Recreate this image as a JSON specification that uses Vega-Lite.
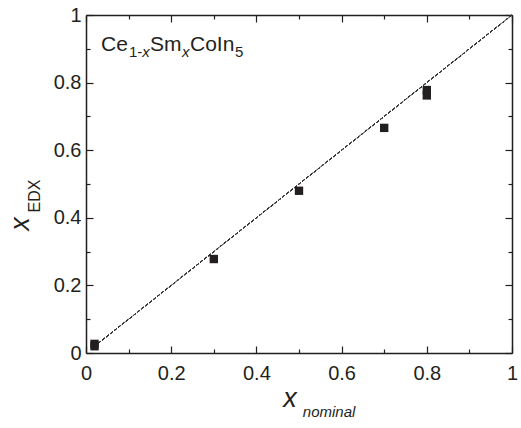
{
  "$schema": "https://vega.github.io/schema/vega-lite/v6.json",
  "width": 426,
  "height": 338,
  "autosize": "none",
  "padding": {"left": 86, "top": 15, "right": 9, "bottom": 75},
  "background": "white",
  "config": {
    "view": {"stroke": null},
    "axis": {
      "grid": false,
      "domainColor": "#231f20",
      "domainWidth": 1.5,
      "tickColor": "#231f20",
      "tickWidth": 1.2,
      "labelFont": "Liberation Sans",
      "labelFontSize": 20,
      "labelColor": "#231f20",
      "labelFlush": false,
      "labelOverlap": false,
      "title": null
    },
    "text": {"font": "Liberation Sans", "color": "#231f20"}
  },
  "data": {"values": [
    {"x_nominal": 0.02, "x_edx": 0.02},
    {"x_nominal": 0.02, "x_edx": 0.027},
    {"x_nominal": 0.3, "x_edx": 0.278},
    {"x_nominal": 0.5, "x_edx": 0.48},
    {"x_nominal": 0.7, "x_edx": 0.666},
    {"x_nominal": 0.8, "x_edx": 0.762},
    {"x_nominal": 0.8, "x_edx": 0.778}
  ]},
  "resolve": {"axis": {"x": "independent", "y": "independent"}},
  "layer": [
    {
      "mark": {"type": "rule", "strokeDash": [3, 2], "strokeWidth": 1, "color": "#333333"},
      "encoding": {
        "x": {"datum": 0.02, "type": "quantitative", "scale": {"domain": [0, 1]},
          "axis": {"orient": "bottom", "values": [0,0.1,0.2,0.3,0.4,0.5,0.6,0.7,0.8,0.9,1], "format": ".1~f",
            "labelExpr": "round(datum.value*10) % 2 === 0 ? datum.label : ''",
            "tickSize": {"condition": {"test": "round(datum.value*10) % 2 === 0", "value": -7}, "value": -4},
            "labelPadding": 17}},
        "y": {"datum": 0.02, "type": "quantitative", "scale": {"domain": [0, 1]},
          "axis": {"orient": "left", "values": [0,0.1,0.2,0.3,0.4,0.5,0.6,0.7,0.8,0.9,1], "format": ".1~f",
            "labelExpr": "round(datum.value*10) % 2 === 0 ? datum.label : ''",
            "tickSize": {"condition": {"test": "round(datum.value*10) % 2 === 0", "value": -7}, "value": -4},
            "labelPadding": 12}},
        "x2": {"datum": 1},
        "y2": {"datum": 1}
      }
    },
    {
      "mark": {"type": "square", "size": 70, "color": "#231f20", "opacity": 1, "filled": true},
      "encoding": {
        "x": {"field": "x_nominal", "type": "quantitative", "scale": {"domain": [0, 1]},
          "axis": {"orient": "top", "values": [0,0.1,0.2,0.3,0.4,0.5,0.6,0.7,0.8,0.9,1], "labels": false,
            "tickSize": {"condition": {"test": "round(datum.value*10) % 2 === 0", "value": -7}, "value": -4}}},
        "y": {"field": "x_edx", "type": "quantitative", "scale": {"domain": [0, 1]},
          "axis": {"orient": "right", "values": [0,0.1,0.2,0.3,0.4,0.5,0.6,0.7,0.8,0.9,1], "labels": false,
            "tickSize": {"condition": {"test": "round(datum.value*10) % 2 === 0", "value": -7}, "value": -4}}}
      }
    },
    {
      "data": {"values": [{}]},
      "mark": {"type": "text", "text": "x", "fontSize": 27, "fontStyle": "italic", "align": "center", "baseline": "middle", "angle": 270},
      "encoding": {
        "x": {"datum": -0.1526, "type": "quantitative", "axis": null, "scale": {"domain": [0, 1]}},
        "y": {"datum": 0.3817, "type": "quantitative", "axis": null, "scale": {"domain": [0, 1]}}
      }
    },
    {
      "data": {"values": [{}]},
      "mark": {"type": "text", "text": "EDX", "fontSize": 16, "align": "center", "baseline": "middle", "angle": 270},
      "encoding": {
        "x": {"datum": -0.1197, "type": "quantitative", "axis": null, "scale": {"domain": [0, 1]}},
        "y": {"datum": 0.4645, "type": "quantitative", "axis": null, "scale": {"domain": [0, 1]}}
      }
    },
    {
      "data": {"values": [{}]},
      "mark": {"type": "text", "text": "x", "fontSize": 27, "fontStyle": "italic", "align": "center", "baseline": "middle"},
      "encoding": {
        "x": {"datum": 0.479, "type": "quantitative", "axis": null, "scale": {"domain": [0, 1]}},
        "y": {"datum": -0.136, "type": "quantitative", "axis": null, "scale": {"domain": [0, 1]}}
      }
    },
    {
      "data": {"values": [{}]},
      "mark": {"type": "text", "text": "nominal", "fontSize": 15, "fontStyle": "italic", "align": "left", "baseline": "middle"},
      "encoding": {
        "x": {"datum": 0.509, "type": "quantitative", "axis": null, "scale": {"domain": [0, 1]}},
        "y": {"datum": -0.1746, "type": "quantitative", "axis": null, "scale": {"domain": [0, 1]}}
      }
    },
    {
      "data": {"values": [{}]},
      "mark": {"type": "text", "text": "Ce", "fontSize": 21, "align": "left", "baseline": "alphabetic"},
      "encoding": {
        "x": {"datum": 0.0352, "type": "quantitative", "axis": null, "scale": {"domain": [0, 1]}},
        "y": {"datum": 0.8935, "type": "quantitative", "axis": null, "scale": {"domain": [0, 1]}}
      }
    },
    {
      "data": {"values": [{}]},
      "mark": {"type": "text", "text": "1-", "fontSize": 15, "align": "left", "baseline": "alphabetic"},
      "encoding": {
        "x": {"datum": 0.101, "type": "quantitative", "axis": null, "scale": {"domain": [0, 1]}},
        "y": {"datum": 0.8757, "type": "quantitative", "axis": null, "scale": {"domain": [0, 1]}}
      }
    },
    {
      "data": {"values": [{}]},
      "mark": {"type": "text", "text": "x", "fontSize": 15, "fontStyle": "italic", "align": "left", "baseline": "alphabetic"},
      "encoding": {
        "x": {"datum": 0.132, "type": "quantitative", "axis": null, "scale": {"domain": [0, 1]}},
        "y": {"datum": 0.8757, "type": "quantitative", "axis": null, "scale": {"domain": [0, 1]}}
      }
    },
    {
      "data": {"values": [{}]},
      "mark": {"type": "text", "text": "Sm", "fontSize": 21, "align": "left", "baseline": "alphabetic"},
      "encoding": {
        "x": {"datum": 0.150, "type": "quantitative", "axis": null, "scale": {"domain": [0, 1]}},
        "y": {"datum": 0.8935, "type": "quantitative", "axis": null, "scale": {"domain": [0, 1]}}
      }
    },
    {
      "data": {"values": [{}]},
      "mark": {"type": "text", "text": "x", "fontSize": 15, "fontStyle": "italic", "align": "left", "baseline": "alphabetic"},
      "encoding": {
        "x": {"datum": 0.2254, "type": "quantitative", "axis": null, "scale": {"domain": [0, 1]}},
        "y": {"datum": 0.8757, "type": "quantitative", "axis": null, "scale": {"domain": [0, 1]}}
      }
    },
    {
      "data": {"values": [{}]},
      "mark": {"type": "text", "text": "CoIn", "fontSize": 21, "align": "left", "baseline": "alphabetic"},
      "encoding": {
        "x": {"datum": 0.2441, "type": "quantitative", "axis": null, "scale": {"domain": [0, 1]}},
        "y": {"datum": 0.8935, "type": "quantitative", "axis": null, "scale": {"domain": [0, 1]}}
      }
    },
    {
      "data": {"values": [{}]},
      "mark": {"type": "text", "text": "5", "fontSize": 15, "align": "left", "baseline": "alphabetic"},
      "encoding": {
        "x": {"datum": 0.3498, "type": "quantitative", "axis": null, "scale": {"domain": [0, 1]}},
        "y": {"datum": 0.8757, "type": "quantitative", "axis": null, "scale": {"domain": [0, 1]}}
      }
    }
  ]
}
